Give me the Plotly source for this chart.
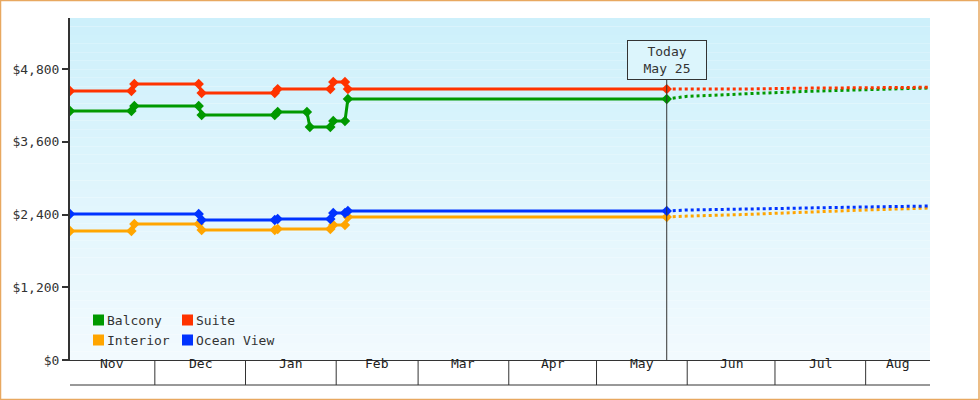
import plotly.graph_objects as go
import pandas as pd

series_names = ["Balcony", "Suite", "Interior", "Ocean View"]
colors = {"Balcony": "#009900", "Suite": "#ff3300", "Interior": "#ffa500", "Ocean View": "#0033ff"}

hist_dates = ["2024-11-02", "2024-11-23", "2024-11-24", "2024-12-16", "2024-12-17", "2025-01-11", "2025-01-12",
              "2025-01-22", "2025-01-23", "2025-01-30", "2025-01-31", "2025-02-04", "2025-02-05", "2025-05-25"]
hist_values = {
    "Suite":      [4438, 4438, 4554, 4554, 4405, 4405, 4470, 4470, 4470, 4470, 4587, 4587, 4470, 4470],
    "Balcony":    [4109, 4109, 4191, 4191, 4043, 4043, 4092, 4092, 3845, 3845, 3944, 3944, 4307, 4307],
    "Ocean View": [2409, 2409, 2409, 2409, 2310, 2310, 2327, 2327, 2327, 2327, 2426, 2426, 2459, 2459],
    "Interior":   [2129, 2129, 2244, 2244, 2145, 2145, 2162, 2162, 2162, 2162, 2228, 2228, 2360, 2360],
}
marker_idx = {
    "Suite": [0, 1, 2, 3, 4, 5, 6, 9, 10, 11, 12, 13],
    "Balcony": [0, 1, 2, 3, 4, 5, 6, 7, 8, 9, 10, 11, 12, 13],
    "Ocean View": [0, 3, 4, 5, 6, 9, 10, 11, 12, 13],
    "Interior": [0, 1, 2, 3, 4, 5, 6, 9, 10, 11, 12, 13],
}

fc_dates = ["2025-05-25", "2025-06-01", "2025-06-20", "2025-07-10", "2025-08-01", "2025-08-23"]
fc_values = {
    "Suite":      [4470, 4470, 4470, 4485, 4490, 4500],
    "Balcony":    [4307, 4350, 4390, 4430, 4460, 4488],
    "Ocean View": [2459, 2475, 2490, 2510, 2525, 2541],
    "Interior":   [2360, 2375, 2400, 2440, 2475, 2508],
}

months = ["Nov", "Dec", "Jan", "Feb", "Mar", "Apr", "May", "Jun", "Jul", "Aug"]
month_starts = ["2024-11-01", "2024-12-01", "2025-01-01", "2025-02-01", "2025-03-01", "2025-04-01",
                "2025-05-01", "2025-06-01", "2025-07-01", "2025-08-01", "2025-09-01"]
y_ticks = [0, 1200, 2400, 3600, 4800]
y_labels = ["$0", "$1,200", "$2,400", "$3,600", "$4,800"]
x_start, x_end = "2024-11-02", "2025-08-23"
today = "2025-05-25"

fig = go.Figure()
for name in ["Interior", "Ocean View", "Balcony", "Suite"]:
    c = colors[name]
    fig.add_trace(go.Scatter(x=fc_dates, y=fc_values[name], mode="lines",
                             line=dict(color=c, width=3, dash="dot"), showlegend=False, hoverinfo="skip"))
    fig.add_trace(go.Scatter(x=hist_dates, y=hist_values[name], mode="lines",
                             line=dict(color=c, width=3), showlegend=False))
    idx = marker_idx[name]
    fig.add_trace(go.Scatter(x=[hist_dates[i] for i in idx], y=[hist_values[name][i] for i in idx],
                             mode="markers", marker=dict(color=c, size=8, symbol="diamond"), showlegend=False))

shapes = []
n = 40
top = (205, 240, 251); bot = (242, 250, 254)
for i in range(n):
    t = i / (n - 1)
    col = "rgb(%d,%d,%d)" % tuple(round(top[k] + (bot[k] - top[k]) * t) for k in range(3))
    shapes.append(dict(type="rect", xref="paper", yref="paper", x0=0, x1=1,
                       y0=1 - (i + 1) / n, y1=1 - i / n, fillcolor=col, line_width=0, layer="below"))
band = -25 / 342
for ms in month_starts[1:-1]:
    shapes.append(dict(type="line", xref="x", yref="paper", x0=ms, x1=ms, y0=0, y1=band,
                       line=dict(color="#333", width=1)))
shapes.append(dict(type="line", xref="paper", yref="paper", x0=0, x1=1, y0=band, y1=band,
                   line=dict(color="#333", width=1)))
shapes.append(dict(type="line", xref="x", yref="paper", x0=today, x1=today, y0=0, y1=(360 - 60) / 342,
                   line=dict(color="#333", width=1)))
shapes.append(dict(type="rect", xref="paper", yref="paper", x0=-69.5 / 860, x1=1 + 49 / 860,
                   y0=-39.5 / 342, y1=1 + 17.5 / 342, line=dict(color="#e8a860", width=1.5)))

annotations = []
for i, m in enumerate(months):
    a = max(pd.Timestamp(month_starts[i]), pd.Timestamp(x_start))
    b = pd.Timestamp(month_starts[i + 1]) if i < len(months) - 1 else pd.Timestamp(x_end)
    mid = a + (b - a) / 2
    annotations.append(dict(x=mid, y=band / 2, xref="x", yref="paper", text=m, showarrow=False,
                            font=dict(size=13, color="#222")))
annotations.append(dict(x=today, y=(360 - 40) / 342, xref="x", yref="paper", text="Today<br>May 25",
                        showarrow=False, bordercolor="#333", borderwidth=1, bgcolor="rgb(220,245,252)",
                        borderpad=3, font=dict(size=13, color="#333"), width=72))
leg = [("Balcony", 93, 320), ("Suite", 182, 320), ("Interior", 93, 340), ("Ocean View", 182, 340)]
for name, px, py in leg:
    shapes.append(dict(type="rect", xref="paper", yref="paper",
                       x0=(px - 70) / 860, x1=(px + 11 - 70) / 860,
                       y0=(360 - py - 5.5) / 342, y1=(360 - py + 5.5) / 342,
                       fillcolor=colors[name], line_width=0))
    annotations.append(dict(x=(px + 12 - 70) / 860, y=(360 - py) / 342, xref="paper", yref="paper",
                            text=name, showarrow=False, xanchor="left", yanchor="middle",
                            font=dict(size=13, color="#333")))

fig.update_layout(
    width=980, height=400, margin=dict(l=70, r=50, t=18, b=40),
    paper_bgcolor="white", plot_bgcolor="rgba(0,0,0,0)",
    font=dict(family="DejaVu Sans Mono", size=13, color="#333"),
    shapes=shapes, annotations=annotations, showlegend=False,
    xaxis=dict(range=[x_start, x_end], showticklabels=False, showgrid=False, zeroline=False,
               showline=True, linecolor="#333", linewidth=1, ticks=""),
    yaxis=dict(range=[0, 5643], tickvals=y_ticks, ticktext=y_labels, showgrid=False, zeroline=False,
               showline=True, linecolor="#333", linewidth=2, ticks="outside", ticklen=6, tickwidth=2,
               tickcolor="#333"),
)
fig.write_html("out.html", config={"displayModeBar": False},
               post_script="document.body.style.margin='0';")
